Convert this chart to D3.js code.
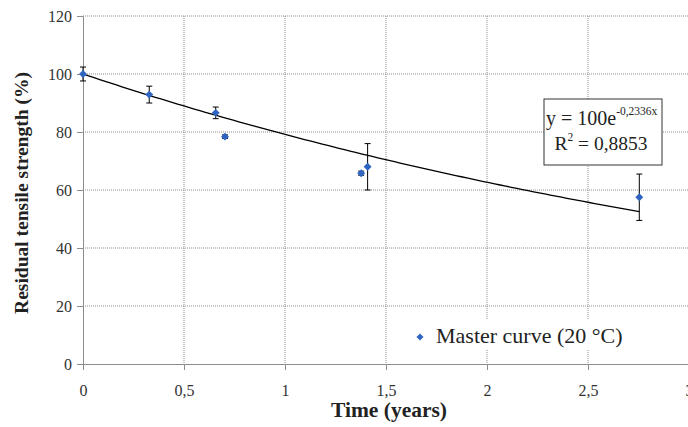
<!DOCTYPE html>
<html>
<head>
<meta charset="utf-8">
<script src="https://cdn.jsdelivr.net/npm/d3@7"></script>
<style>
  body { margin: 0; background: #fff; }
  svg text { font-family: "Liberation Serif", "DejaVu Serif", serif; }
</style>
</head>
<body>
<div id="chart"></div>
<script>
// measured points: time (years), residual strength (%), error (+/-)
const times = [0, 0.328, 0.657, 0.703, 1.377, 1.409, 2.754];
const strength = [100, 92.9, 86.6, 78.4, 65.8, 68.0, 57.5];
const errors = [2.4, 2.9, 2.0, 0.6, 0.7, 8.0, 8.0];

const xTicks = [0, 0.5, 1, 1.5, 2, 2.5, 3];
const yTicks = [0, 20, 40, 60, 80, 100, 120];

// exponential fit y = A e^(b x)
const fitA = 100;
const fitB = -0.2336;
const fitR2 = "0,8853";
const fitEnd = 2.754;

const width = 688, height = 427;
const margin = { top: 16, left: 83 };
const plotW = 606, plotH = 348;

const svg = d3.select("#chart").append("svg")
  .attr("width", width)
  .attr("height", height);

const g = svg.append("g")
  .attr("transform", `translate(${margin.left},${margin.top})`);

const x = d3.scaleLinear().domain([0, 3]).range([0, plotW]);
const y = d3.scaleLinear().domain([0, 120]).range([plotH, 0]);

const fmt = d => String(d).replace(".", ",");

// grid lines
g.selectAll(".hgrid").data(yTicks.filter(d => d > 0)).enter()
  .append("line")
  .attr("x1", 0).attr("x2", plotW)
  .attr("y1", d => y(d)).attr("y2", d => y(d))
  .attr("stroke", "#8c8c8c")
  .attr("stroke-dasharray", "1,1");

g.selectAll(".vgrid").data(xTicks.filter(d => d > 0)).enter()
  .append("line")
  .attr("x1", d => x(d)).attr("x2", d => x(d))
  .attr("y1", 0).attr("y2", plotH)
  .attr("stroke", "#8c8c8c")
  .attr("stroke-dasharray", "1,1");

// axes
const yAxis = g.append("g")
  .call(d3.axisLeft(y).tickValues(yTicks).tickSize(6).tickPadding(5).tickFormat(fmt));
const xAxis = g.append("g")
  .attr("transform", `translate(0,${plotH})`)
  .call(d3.axisBottom(x).tickValues(xTicks).tickSize(6).tickPadding(15).tickFormat(fmt));

[yAxis, xAxis].forEach(a => {
  a.select(".domain").attr("stroke", "#8c8c8c");
  a.selectAll(".tick line").attr("stroke", "#8c8c8c");
  a.selectAll("text")
    .style("font-family", "Liberation Serif, serif")
    .style("font-size", "16px")
    .attr("fill", "#333");
});

// fitted curve
const curvePts = d3.range(0, 101).map(i => fitEnd * i / 100);
g.append("path")
  .datum(curvePts)
  .attr("fill", "none")
  .attr("stroke", "#000")
  .attr("stroke-width", 1.3)
  .attr("d", d3.line().x(d => x(d)).y(d => y(fitA * Math.exp(fitB * d))));

// error bars
const pts = times.map((t, i) => ({ t, s: strength[i], e: errors[i] }));
const eb = g.selectAll(".err").data(pts).enter().append("g");
eb.append("line")
  .attr("x1", d => x(d.t)).attr("x2", d => x(d.t))
  .attr("y1", d => y(d.s + d.e)).attr("y2", d => y(d.s - d.e))
  .attr("stroke", "#000").attr("stroke-width", 1);
[1, -1].forEach(sgn => {
  eb.append("line")
    .attr("x1", d => x(d.t) - 3).attr("x2", d => x(d.t) + 3)
    .attr("y1", d => y(d.s + sgn * d.e)).attr("y2", d => y(d.s + sgn * d.e))
    .attr("stroke", "#000").attr("stroke-width", 1);
});

// markers
const diamond = d3.symbol().type(d3.symbolDiamond2).size(40);
g.selectAll(".pt").data(pts).enter()
  .append("path")
  .attr("d", diamond)
  .attr("transform", d => `translate(${x(d.t)},${y(d.s)})`)
  .attr("fill", "#2f64c0");

// equation box
const box = svg.append("g").attr("transform", "translate(544,99)");
box.append("rect")
  .attr("width", 118).attr("height", 66)
  .attr("fill", "#fff").attr("stroke", "#333").attr("stroke-width", 1);
const eq = box.append("text").attr("x", 2).attr("y", 26)
  .style("font-size", "20px").attr("fill", "#222");
eq.append("tspan").text("y = 100e");
eq.append("tspan").attr("dy", -10).style("font-size", "11.5px").text("-0,2336x");
const r2 = box.append("text").attr("x", 57).attr("y", 51)
  .attr("text-anchor", "middle")
  .style("font-size", "19.5px").attr("fill", "#222");
r2.append("tspan").text("R");
r2.append("tspan").attr("dy", -9).style("font-size", "11.5px").text("2");
r2.append("tspan").attr("dy", 9).text(" = " + fitR2);

// legend
const leg = svg.append("g").attr("transform", "translate(412,320)");
leg.append("rect").attr("width", 220).attr("height", 30).attr("fill", "#fff");
leg.append("path")
  .attr("d", d3.symbol().type(d3.symbolDiamond2).size(32))
  .attr("transform", "translate(8,17)")
  .attr("fill", "#2f64c0");
leg.append("text").attr("x", 24).attr("y", 23)
  .style("font-size", "22px").attr("fill", "#222")
  .text("Master curve (20 °C)");

// axis titles
svg.append("text")
  .attr("x", 389).attr("y", 417)
  .attr("text-anchor", "middle")
  .style("font-size", "21.5px").style("font-weight", "bold")
  .attr("fill", "#222")
  .text("Time (years)");

svg.append("text")
  .attr("transform", "translate(28,193) rotate(-90)")
  .attr("text-anchor", "middle")
  .style("font-size", "19.5px").style("font-weight", "bold")
  .attr("fill", "#222")
  .text("Residual tensile strength (%)");
</script>
</body>
</html>
